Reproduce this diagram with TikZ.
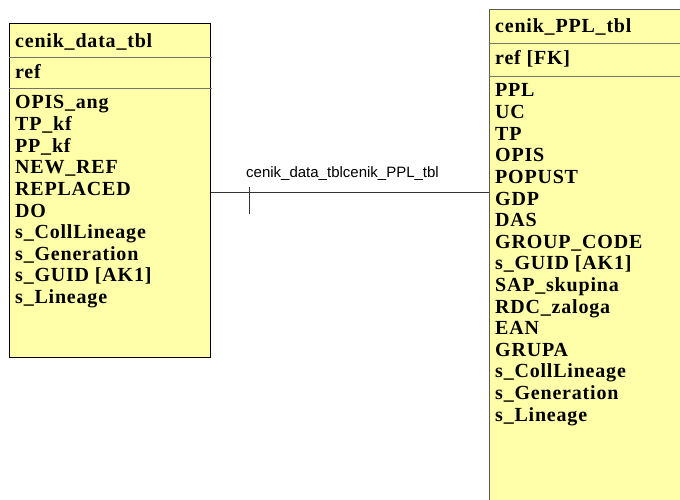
\documentclass[tikz,border=0pt]{standalone}
\usepackage{fontspec}
\setmainfont{Liberation Serif}
\newfontfamily\labelfont{Liberation Sans}
\usetikzlibrary{positioning}
\definecolor{entityfill}{RGB}{255,255,170}
\tikzset{
  entity/.style = {draw=black, fill=entityfill, line width=0.8pt, anchor=north west, inner sep=0pt},
  divider/.style = {draw=black!55, line width=0.8pt},
  attr/.style = {font=\fontsize{20}{21.6}\selectfont\bfseries\addfontfeatures{LetterSpace=4}, anchor=base west, inner sep=0pt},
  relline/.style = {draw=black!80, line width=0.8pt},
  rellabel/.style = {font=\fontsize{15}{18}\selectfont\labelfont, anchor=base west, inner sep=0pt},
}
\begin{document}
\begin{tikzpicture}[x=1pt, y=-1pt]
\path[use as bounding box, clip] (0,0) rectangle (680,500);

% cenik_data_tbl
\node[entity, minimum width=201pt, minimum height=334pt] (datatbl) at (9.3,23) {};
\draw[divider] (9.3,57) -- (212,57);
\draw[divider] (9.3,88) -- (212,88);
\node[attr] (datatitle) at (15,48) {cenik\_data\_tbl};
\node[attr] (datakey) at (15,79) {ref};
\foreach \attrname [count=\k from 0] in {OPIS\_ang, TP\_kf, PP\_kf, NEW\_REF, REPLACED, DO,
    s\_CollLineage, s\_Generation, s\_GUID [AK1], s\_Lineage}
  \node[attr] (dattr\k) at (15,109+21.6*\k) {\attrname};

% cenik_PPL_tbl
\node[entity, draw=black!65, minimum width=260pt, minimum height=520pt] (ppltbl) at (489,9) {};
\draw[divider] (489,43) -- (690,43);
\draw[divider] (489,76) -- (690,76);
\node[attr] (ppltitle) at (495,33) {cenik\_PPL\_tbl};
\node[attr] (pplkey) at (495,65) {ref [FK]};
\foreach \attrname [count=\k from 0] in {PPL, UC, TP, OPIS, POPUST, GDP, DAS, GROUP\_CODE,
    s\_GUID [AK1], SAP\_skupina, RDC\_zaloga, EAN, GRUPA, s\_CollLineage, s\_Generation, s\_Lineage}
  \node[attr] (pattr\k) at (495,97+21.6*\k) {\attrname};

% relationship
\coordinate (relrow) at (0,192);
\coordinate (tick) at (249,192);
\draw[relline] (datatbl.east |- relrow) -- (ppltbl.west |- relrow);
\draw[relline] (tick) ++(0,-5) -- ++(0,27);
\node[rellabel] (relname) at (246,177) {cenik\_data\_tblcenik\_PPL\_tbl};

\end{tikzpicture}
\end{document}
